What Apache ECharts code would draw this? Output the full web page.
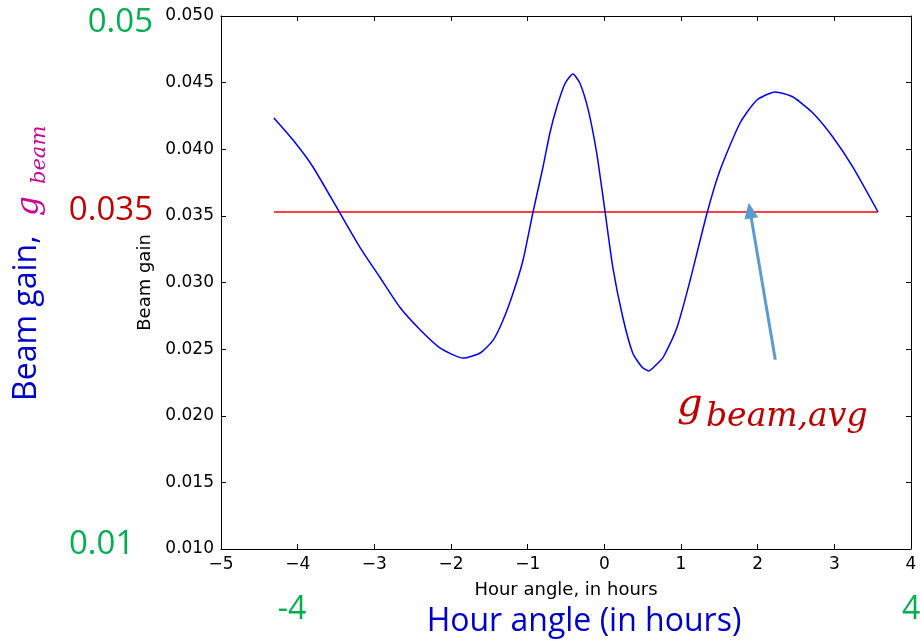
<!DOCTYPE html>
<html>
<head>
    <meta charset="utf-8">
    <title>Beam gain</title>
    <script src="https://cdn.jsdelivr.net/npm/echarts@6/dist/echarts.min.js"></script>
    <style>
        html, body { margin: 0; padding: 0; background: #fff; }
        #chart { width: 920px; height: 643px; }
    </style>
</head>
<body>
    <div id="chart"></div>
    <script>
        // hour angle (hours) and beam gain
        var hours = [-4.31, -4.06, -3.80, -3.45, -3.19, -2.93, -2.67, -2.40, -2.14, -1.84,
            -1.62, -1.45, -1.32, -1.19, -1.06, -0.93, -0.80, -0.71, -0.62, -0.51,
            -0.41, -0.32, -0.21, -0.10, 0.01, 0.11, 0.24, 0.37, 0.49, 0.58,
            0.70, 0.77, 0.95, 1.12, 1.34, 1.51, 1.77, 1.99, 2.23, 2.46,
            2.72, 2.98, 3.24, 3.57];
        var gain = [0.04235, 0.04069, 0.03867, 0.03522, 0.03266, 0.03041, 0.02816, 0.02644, 0.02508, 0.02433,
            0.02471, 0.02568, 0.02719, 0.02921, 0.03169, 0.03529, 0.03867, 0.04122, 0.04317, 0.04497,
            0.04565, 0.04497, 0.04295, 0.03972, 0.03529, 0.03116, 0.02741, 0.02471, 0.02366, 0.02336,
            0.02396, 0.02441, 0.02666, 0.03019, 0.03522, 0.03844, 0.04197, 0.04370, 0.04430, 0.04392,
            0.04272, 0.04092, 0.03867, 0.03529];
        // average gain line
        var avgGain = 0.0353;
        var avgRange = [-4.31, 3.57];
        // arrow pointing at the average line (tail, tip)
        var arrowFrom = [2.23, 0.0242];
        var arrowTo = [1.90, 0.0354];

        var xTicks = { min: -5, max: 4, interval: 1 };
        var yTicks = { min: 0.010, max: 0.050, interval: 0.005 };

        var curve = hours.map(function (h, i) { return [h, gain[i]]; });
        var avgLine = avgRange.map(function (h) { return [h, avgGain]; });

        var mplFont = 'DejaVu Sans';
        var slideFont = 'Open Sans';
        var mathFont = 'DejaVu Serif';
        var black = '#000';

        var boxAxis = {
            axisLine: { show: true, onZero: false, lineStyle: { color: black, width: 1 } },
            axisTick: { show: true, inside: true, length: 5, lineStyle: { color: black } },
            splitLine: { show: false }
        };

        var chart = echarts.init(document.getElementById('chart'));
        chart.setOption({
            animation: false,
            backgroundColor: '#fff',
            grid: { left: 221, right: 9, top: 16, bottom: 94 },
            xAxis: [
                Object.assign({
                    type: 'value', position: 'bottom',
                    min: xTicks.min, max: xTicks.max, interval: xTicks.interval,
                    name: 'Hour angle, in hours', nameLocation: 'middle', nameGap: 32,
                    nameTextStyle: { fontFamily: mplFont, fontSize: 18, color: black },
                    axisLabel: {
                        fontFamily: mplFont, fontSize: 17, color: black, margin: 7,
                        formatter: function (v) { return String(v).replace('-', '\u2212'); }
                    }
                }, boxAxis),
                Object.assign({
                    type: 'value', position: 'top',
                    min: xTicks.min, max: xTicks.max, interval: xTicks.interval,
                    axisLabel: { show: false }
                }, boxAxis)
            ],
            yAxis: [
                Object.assign({
                    type: 'value', position: 'left',
                    min: yTicks.min, max: yTicks.max, interval: yTicks.interval,
                    name: 'Beam gain', nameLocation: 'middle', nameGap: 66,
                    nameTextStyle: { fontFamily: mplFont, fontSize: 18, color: black },
                    axisLabel: {
                        fontFamily: mplFont, fontSize: 17, color: black, margin: 7,
                        formatter: function (v) { return v.toFixed(3); }
                    }
                }, boxAxis),
                Object.assign({
                    type: 'value', position: 'right',
                    min: yTicks.min, max: yTicks.max, interval: yTicks.interval,
                    axisLabel: { show: false }
                }, boxAxis)
            ],
            series: [
                {
                    name: 'gain', type: 'line', data: curve,
                    xAxisIndex: 0, yAxisIndex: 0,
                    smooth: 0.2, symbol: 'none',
                    lineStyle: { color: '#0000ff', width: 1.5 },
                    z: 3
                },
                {
                    name: 'avg', type: 'line', data: avgLine,
                    xAxisIndex: 0, yAxisIndex: 0,
                    symbol: 'none',
                    lineStyle: { color: '#ff0000', width: 1.5 },
                    z: 2,
                    markLine: {
                        silent: true,
                        symbol: ['none', 'triangle'],
                        symbolSize: [14, 16],
                        label: { show: false },
                        lineStyle: { color: '#5b9bd5', width: 3, type: 'solid' },
                        data: [[{ coord: arrowFrom }, { coord: arrowTo }]]
                    }
                }
            ],
            graphic: [
                { type: 'text', x: 153, y: 23, style: { text: '0.05', align: 'right', verticalAlign: 'middle', fontFamily: slideFont, fontSize: 33, fill: '#00b050' } },
                { type: 'text', x: 153, y: 211, style: { text: '0.035', align: 'right', verticalAlign: 'middle', fontFamily: slideFont, fontSize: 33, fill: '#c00000' } },
                { type: 'text', x: 69, y: 545, style: { text: '0.01', align: 'left', verticalAlign: 'middle', fontFamily: slideFont, fontSize: 33, fill: '#00b050' } },
                { type: 'text', x: 292, y: 610, style: { text: '-4', align: 'center', verticalAlign: 'middle', fontFamily: slideFont, fontSize: 32, fill: '#00b050' } },
                { type: 'text', x: 902, y: 610, style: { text: '4', align: 'left', verticalAlign: 'middle', fontFamily: slideFont, fontSize: 32, fill: '#00b050' } },
                { type: 'text', x: 584, y: 622, style: { text: 'Hour angle (in hours)', align: 'center', verticalAlign: 'middle', fontFamily: slideFont, fontSize: 32, fill: '#0000cc' } },
                { type: 'text', x: 27, y: 401, rotation: Math.PI / 2, style: { text: 'Beam gain,', align: 'left', verticalAlign: 'middle', fontFamily: slideFont, fontSize: 32, fill: '#0000cc' } },
                { type: 'text', x: 30, y: 216, rotation: Math.PI / 2, style: { text: 'g', align: 'left', verticalAlign: 'middle', fontFamily: mathFont, fontStyle: 'italic', fontSize: 31, fill: '#cc0099' } },
                { type: 'text', x: 40, y: 184, rotation: Math.PI / 2, style: { text: 'beam', align: 'left', verticalAlign: 'middle', fontFamily: mathFont, fontStyle: 'italic', fontSize: 21, fill: '#cc0099' } },
                { type: 'text', x: 677, y: 406, style: { text: 'g', align: 'left', verticalAlign: 'middle', fontFamily: mathFont, fontStyle: 'italic', fontSize: 40, fill: '#c00000' } },
                { type: 'text', x: 706, y: 417, style: { text: 'beam,avg', align: 'left', verticalAlign: 'middle', fontFamily: mathFont, fontStyle: 'italic', fontSize: 33, fill: '#c00000' } }
            ]
        });
    </script>
</body>
</html>
